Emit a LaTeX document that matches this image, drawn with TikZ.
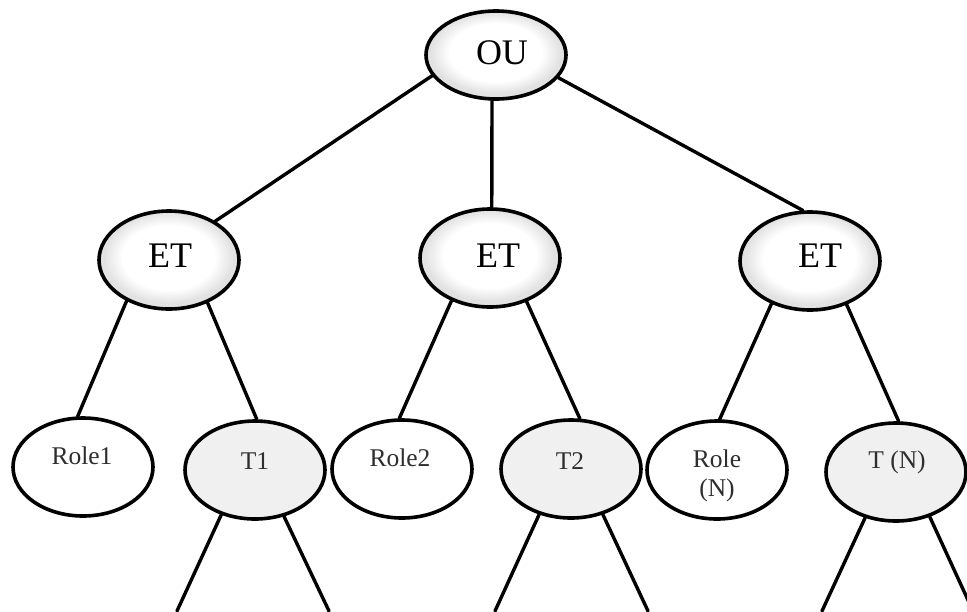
\documentclass[tikz,border=0pt]{standalone}
\usepackage{fontspec}
\setmainfont{Liberation Serif}
\usetikzlibrary{shapes.geometric}

\definecolor{ringgray}{HTML}{E2E2E2}
\definecolor{leafgray}{HTML}{F0F0F0}
\definecolor{leaftext}{HTML}{2E2E2E}

\tikzset{
  bubble/.style={ellipse, draw=black, line width=3.6pt, inner sep=0pt,
                 minimum width=140pt, minimum height=98pt},
  % pale grey rim that fades into a white centre
  rim/.style 2 args={fill=ringgray, path picture={
      \foreach \k in {1,...,12}{
        \pgfmathtruncatemacro\w{100*\k/12}
        \pgfmathsetmacro\rr{0.94-0.022*\k}
        \fill[white!\w!ringgray] ([yshift=2pt]path picture bounding box.center)
          ellipse [x radius=#1*\rr, y radius=#2*\rr];
      }}},
  topbubble/.style={bubble, rim={70}{49}},
  rootbubble/.style={bubble, minimum height=88pt, rim={70}{44}},
  rolebubble/.style={bubble, fill=white},
  taskbubble/.style={bubble, fill=leafgray},
  toplabel/.style={anchor=base, font=\fontsize{36}{40}\selectfont, text=black, inner sep=0pt},
  leaflabel/.style={anchor=base, font=\fontsize{25.5}{28}\selectfont, text=leaftext, inner sep=0pt},
  branch/.style={line width=3.4pt, line cap=round}
}

\begin{document}
\begin{tikzpicture}[x=1pt, y=-1pt]
  \useasboundingbox (0,0) rectangle (967,611);
  \clip (0,0) rectangle (967,611);

  % root and the three ET nodes
  \node[rootbubble] (ou) at (496,55) {};
  \node[topbubble] (et1) at (169,260) {};
  \node[topbubble] (et2) at (490,258) {};
  \node[topbubble] (et3) at (810,261) {};

  % leaves
  \node[rolebubble] (role1) at (83,467) {};
  \node[taskbubble] (t1)    at (255,470) {};
  \node[rolebubble] (role2) at (402,469) {};
  \node[taskbubble] (t2)    at (571,469) {};
  \node[rolebubble] (rolen) at (717,470) {};
  \node[taskbubble] (tn)    at (896,472) {};

  % labels
  \node[toplabel] (ou-t)  at (502,64) {OU};
  \node[toplabel] (et1-t) at (170,267) {ET};
  \node[toplabel] (et2-t) at (498,267) {ET};
  \node[toplabel] (et3-t) at (820,267) {ET};
  \node[leaflabel] (role1-t) at (82,464.5) {Role1};
  \node[leaflabel] (t1-t)    at (255,469.5) {T1};
  \node[leaflabel] (role2-t) at (400,466.5) {Role2};
  \node[leaflabel] (t2-t)    at (570,469.5) {T2};
  \node[leaflabel] (rolen-t) at (717,467.5) {Role};
  \node[leaflabel] (rolen-n) at (717,496.3) {(N)};
  \node[leaflabel] (tn-t)    at (897,468.3) {T (N)};

  % open ends of the lower branches
  \coordinate (t1-l) at (177,611);
  \coordinate (t1-r) at (329,611);
  \coordinate (t2-l) at (495,611);
  \coordinate (t2-r) at (648,611);
  \coordinate (tn-l) at (822,611);
  \coordinate (tn-r) at (973,611);

  % branches
  \draw[branch] (ou.198) -- (et1.40);
  \draw[branch] (ou.265) -- (et2.88);
  \draw[branch] (ou.340) -- (et3.98);

  \draw[branch] (et1.224) -- (role1.96);
  \draw[branch] (et1.312) -- (t1.88);
  \draw[branch] (et2.228) -- (role2.93);
  \draw[branch] (et2.310) -- (t2.80);
  \draw[branch] (et3.228) -- (rolen.87);
  \draw[branch] (et3.310) -- (tn.87);

  \draw[branch] (t1.233) -- (t1-l);
  \draw[branch] (t1.302) -- (t1-r);
  \draw[branch] (t2.235) -- (t2-l);
  \draw[branch] (t2.305) -- (t2-r);
  \draw[branch] (tn.236) -- (tn-l);
  \draw[branch] (tn.307) -- (tn-r);
\end{tikzpicture}
\end{document}
